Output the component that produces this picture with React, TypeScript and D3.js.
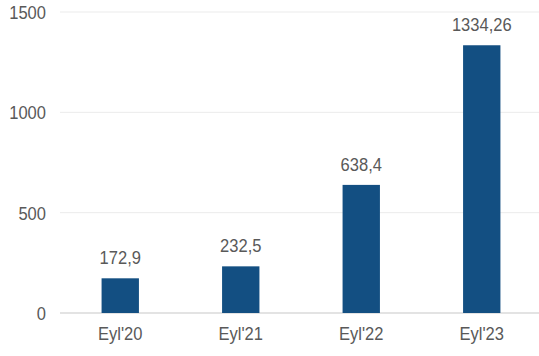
import React from "react";
import * as d3 from "d3";

const categories = ["Eyl'20", "Eyl'21", "Eyl'22", "Eyl'23"];
const values = [172.9, 232.5, 638.4, 1334.26];
const valueLabels = ["172,9", "232,5", "638,4", "1334,26"];
const yTicks = [0, 500, 1000, 1500];

const W = 539;
const H = 356;
const left = 60;
const right = 542;
const top = 12;
const bottom = 313;
const SX = 0.87;
const FS = 19;

function Label({ x, y, anchor, children, dy }: any) {
  return (
    <g transform={`translate(${x},${y}) scale(${SX},1)`}>
      <text x={0} y={0} dy={dy} textAnchor={anchor} fontSize={FS} fill="#595959">
        {children}
      </text>
    </g>
  );
}

export default function App() {
  const x = d3
    .scaleBand<string>()
    .domain(categories)
    .range([left, right])
    .paddingInner(0.69)
    .paddingOuter(0.345);
  const y = d3.scaleLinear().domain([0, 1500]).range([bottom, top]);
  const font = "'Liberation Sans', Arial, sans-serif";
  return (
    <svg
      width={W}
      height={H}
      style={{ position: "absolute", left: 0, top: 0, background: "#fff" }}
      fontFamily={font}
    >
      {yTicks.map((t) => (
        <g key={t}>
          <line
            x1={left}
            x2={W}
            y1={y(t)}
            y2={y(t)}
            stroke={t === 0 ? "#c8c8c8" : "#ebebeb"}
            strokeWidth={t === 0 ? 1.2 : 1}
          />
          <Label x={46} y={y(t)} anchor="end" dy="0.36em">
            {t}
          </Label>
        </g>
      ))}
      {categories.map((c, i) => {
        const bx = x(c)!;
        const bw = x.bandwidth();
        const yv = y(values[i]);
        return (
          <g key={c}>
            <rect x={bx} y={yv} width={bw} height={bottom - yv} fill="#134f82" />
            <Label x={bx + bw / 2} y={yv - 14} anchor="middle">
              {valueLabels[i]}
            </Label>
            <Label x={bx + bw / 2} y={340} anchor="middle">
              {c}
            </Label>
          </g>
        );
      })}
    </svg>
  );
}
